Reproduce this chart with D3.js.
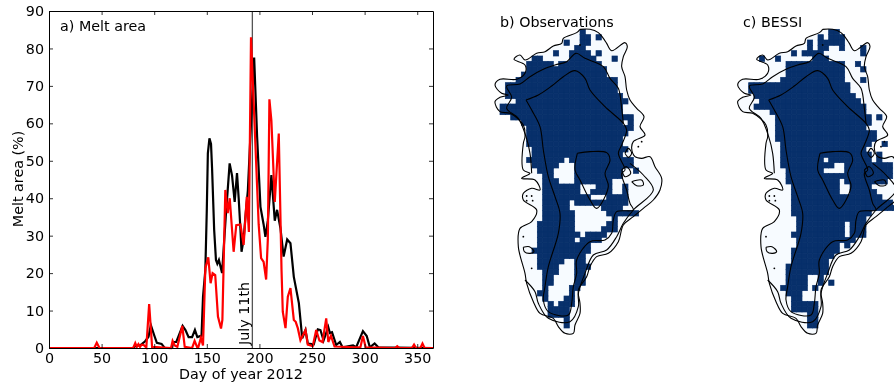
<!DOCTYPE html>
<html>
<head>
<meta charset="utf-8">
<script src="https://cdn.jsdelivr.net/npm/d3@7"></script>
<style>
  html, body { margin: 0; padding: 0; background: #fff; }
  text { font-family: "DejaVu Sans", sans-serif; fill: #000; }
  svg { display: block; filter: blur(0.3px); }
</style>
</head>
<body>
<svg id="chart" width="894" height="390"></svg>
<script>
// melt area, day of year and percent
const xTicks = [0, 50, 100, 150, 200, 250, 300, 350];
const yTicks = [0, 10, 20, 30, 40, 50, 60, 70, 80, 90];
const julyDay = 193.3;

const obsDays = [0, 80, 82, 87, 91.4, 94.6, 96.8, 100, 102.5, 107, 110, 117, 118, 121, 127, 129.7, 132.7, 136, 138.7, 141, 145, 146.4, 148.6, 150, 151, 152.5, 154, 155, 157, 158.7, 160, 161.5, 164.5, 168, 171.7, 174, 176.5, 178.7, 180.3, 182, 183, 185, 187, 189, 192, 195, 197.8, 201, 204, 205.7, 208, 211.4, 214.6, 216.8, 220, 223, 226.4, 229.5, 232.7, 237.5, 240.7, 243.8, 246, 251.7, 255.5, 258, 261, 265.4, 267, 269, 273, 276.5, 279, 286.7, 289, 292, 298.4, 302, 305, 309.5, 313, 365];
const obsValues = [0, 0, 0.5, 0.8, 1.8, 3, 6.1, 3.4, 1.4, 1.1, 0, 0, 1.6, 1.6, 5.9, 4.8, 2.9, 2.9, 4.8, 2.9, 3.3, 13.7, 20.8, 37, 52, 56, 54.5, 48, 31.5, 23.5, 22.5, 23.5, 20, 35, 49.3, 46, 39, 46.7, 40, 31.5, 25.7, 29, 36, 42, 60, 77.6, 56.5, 37.7, 33, 29.7, 34, 46.2, 34, 36.9, 32, 24.4, 29, 28, 19, 12, 2.6, 4.8, 1.2, 1, 5, 4.8, 2, 5.6, 4, 4.2, 0.8, 1.6, 0.2, 0.6, 0.7, 0.2, 4.5, 3.2, 0.2, 1.2, 0.2, 0];

const modelDays = [0, 43, 45.4, 48, 80, 82, 83.5, 85, 86.5, 88, 90, 92.5, 95.2, 98, 116, 117.5, 119.5, 122, 126.7, 129, 136, 138.4, 140.7, 142, 144.4, 146.4, 148.6, 151.4, 153.6, 155.5, 158, 160.6, 163.5, 164.8, 167.6, 169.9, 171.8, 175.5, 178, 182, 185, 188, 190, 192, 199.3, 201.6, 204, 206.4, 208, 209.5, 211.4, 214.6, 218.4, 221, 222.2, 224.8, 227, 229.5, 232.7, 234.5, 236.5, 239, 243.8, 246, 250.7, 254, 257, 260, 263.5, 265.5, 268, 271.4, 290, 296, 298.4, 301, 329, 331, 333, 345, 347, 349, 353, 355, 357, 365];
const modelValues = [0, 0, 1.4, 0, 0, 1.3, 0.3, 1, 0.3, 0.9, 0.8, 0.1, 11.7, 0.3, 0, 1.9, 0.7, 0.3, 5.9, 0.3, 0, 1.9, 0.3, 0.3, 2.7, 0.7, 21.3, 24.2, 17.3, 20, 19.5, 8.4, 5.2, 7.5, 42.2, 36, 40, 25.7, 32.8, 33, 27.5, 40.4, 31, 83, 33, 24, 23, 18.3, 29, 66.4, 60.7, 39, 57.3, 21, 9.7, 5.3, 13.7, 16, 7.5, 7, 5.3, 2.1, 4.8, 0.9, 0.5, 4.8, 2, 1.6, 7.9, 1.6, 3.3, 0.4, 0.2, 0.2, 3.2, 0.2, 0, 0.5, 0, 0, 0.9, 0, 0, 1.2, 0, 0];

// melted cells, one list of [first, last] column spans per grid row
const obsRows = [
  [[16, 16]], [[16, 17], [19, 19]], [[13, 13], [16, 17]], [[15, 16]], [[11, 11], [14, 17], [19, 19]],
  [[7, 8], [14, 18], [22, 22]], [[6, 10], [12, 19]], [[6, 20]], [[5, 20]], [[4, 22]], [[2, 22]], [[2, 22]],
  [[2, 23]], [[4, 24]], [[1, 23]], [[1, 23]], [[3, 23], [24, 25]], [[5, 23], [25, 25]], [[6, 25]], [[6, 24]],
  [[6, 23]], [[6, 23]], [[7, 23], [24, 24]], [[7, 23]], [[6, 12], [14, 25]], [[7, 11], [15, 25]], [[8, 10], [15, 23], [26, 26]],
  [[9, 10], [15, 23]], [[9, 11], [15, 21]], [[9, 15], [19, 21], [24, 24]], [[9, 15], [18, 21], [24, 24]], [[9, 17], [21, 24]],
  [[9, 13], [15, 24]], [[9, 13], [20, 23]], [[9, 14], [21, 26]], [[9, 14], [22, 22]], [[8, 14], [21, 22]],
  [[8, 14], [20, 22]], [[8, 15], [17, 20]], [[8, 14], [16, 19]], [[8, 17]], [[7, 17]], [[8, 16]], [[8, 12], [15, 16]],
  [[8, 11], [15, 17]], [[9, 11], [15, 16]], [[9, 10], [15, 16]], [[9, 10], [15, 16]], [[9, 9], [14, 15]],
  [[8, 9], [14, 14]], [[9, 9], [13, 14]], [[10, 10], [12, 14]], [[10, 13]], [[10, 13]], [[13, 13]], [[13, 13]]
];

const bessiRows = [
  [[18, 19]], [[16, 16], [18, 20]], [[14, 14], [16, 20]], [[14, 14], [16, 17], [20, 20], [24, 24]],
  [[11, 11], [13, 14], [15, 16], [24, 24]], [[5, 5], [8, 8], [15, 17]], [[10, 20], [23, 23]], [[10, 20], [24, 24]],
  [[10, 20]], [[9, 20], [24, 24]], [[3, 21]], [[3, 21]], [[4, 22]], [[5, 23]], [[4, 24]], [[7, 24]],
  [[8, 25], [27, 27]], [[8, 25]], [[8, 24]], [[8, 26]], [[8, 26]], [[9, 25], [28, 28]], [[9, 24]],
  [[9, 25], [27, 27]], [[9, 16], [18, 25], [27, 27]], [[9, 18], [21, 29]], [[10, 16], [21, 29]],
  [[10, 29]], [[10, 19], [21, 25], [26, 28]], [[11, 19], [22, 25]], [[11, 19], [22, 26]], [[11, 27]],
  [[11, 29]], [[11, 30]], [[11, 25]], [[12, 24]], [[12, 20], [22, 24]], [[12, 20], [22, 24]], [[11, 20], [22, 24]],
  [[12, 22]], [[12, 19], [21, 21]], [[11, 19]], [[11, 18]], [[11, 17]], [[10, 17]], [[10, 17]], [[10, 13], [16, 16]],
  [[10, 13], [16, 16], [18, 18]], [[9, 13], [15, 15]], [[10, 12]], [[11, 12]], [[11, 14], [15, 15]], [[11, 14], [15, 15]],
  [[14, 15]], [[14, 15]], [[14, 15]]
];

// contour lines in map units (a third of a pixel)
const coast = [[270, 58], [300, 58], [325, 68], [340, 85], [350, 100], [365, 122], [405, 98], [412, 110], [400, 140], [395, 170], [405, 200], [410, 240], [420, 270], [440, 295], [462, 320], [450, 350], [465, 375], [430, 395], [425, 415], [435, 440], [455, 445], [480, 440], [495, 470], [515, 505], [510, 540], [490, 570], [460, 595], [430, 620], [400, 645], [385, 695], [355, 730], [320, 740], [300, 770], [290, 800], [265, 840], [270, 880], [270, 910], [255, 945], [250, 970], [225, 970], [205, 950], [190, 925], [150, 910], [130, 875], [110, 820], [105, 790], [85, 710], [90, 655], [125, 635], [140, 600], [100, 570], [100, 550], [125, 535], [150, 540], [135, 510], [95, 505], [120, 490], [100, 480], [100, 400], [105, 380], [100, 345], [60, 310], [30, 305], [15, 275], [30, 262], [55, 255], [35, 250], [15, 225], [30, 208], [80, 208], [105, 190], [105, 165], [72, 148], [90, 135], [105, 150], [140, 130], [165, 125], [190, 108], [215, 100], [220, 85], [260, 68], [270, 58]];
const lowContour = [[400, 340], [395, 295], [385, 235], [360, 205], [340, 170], [285, 145], [258, 130], [230, 155], [195, 165], [160, 178], [120, 200], [90, 222], [50, 228], [65, 262], [50, 295], [85, 325], [108, 380], [120, 430], [125, 490]];
const southRing = [[420, 460], [460, 495], [490, 540], [430, 600], [400, 640], [380, 680], [350, 720], [310, 735], [285, 790], [265, 850], [265, 890], [240, 935], [175, 925], [145, 880], [135, 845], [105, 810]];
const midContour = [[108, 270], [145, 255], [185, 228], [220, 200], [255, 182], [285, 205], [300, 240], [345, 290], [400, 340], [410, 360], [395, 405], [385, 430], [405, 480], [395, 490], [410, 540], [420, 580], [430, 600], [380, 605], [370, 630], [365, 670], [345, 690], [300, 695], [260, 750], [260, 790], [250, 830], [245, 880], [235, 915], [175, 905], [160, 870], [165, 830], [175, 770], [205, 670], [210, 610], [195, 560], [175, 500], [160, 420], [150, 350], [125, 300], [108, 270]];
const summitContour = [[262, 430], [300, 425], [350, 428], [360, 450], [345, 490], [355, 530], [320, 595], [300, 570], [270, 510], [255, 480], [262, 430]];
const lakes = [
  [[405, 430], [415, 415], [425, 430], [415, 442], [405, 430]],
  [[395, 480], [410, 470], [422, 490], [405, 500], [395, 480]],
  [[425, 515], [455, 510], [460, 525], [440, 527], [425, 515]],
  [[100, 712], [118, 710], [132, 725], [120, 730], [103, 725], [100, 712]]
];
const dotU = [455, 445, 110, 125, 110, 128, 100, 125, 270];
const dotV = [395, 410, 558, 558, 572, 572, 680, 775, 105];

const frame = { left: 49, right: 433, top: 11, bottom: 348 };

const svg = d3.select('#chart');

const x = d3.scaleLinear().domain([0, 365]).range([frame.left, frame.right]);
const y = d3.scaleLinear().domain([0, 90]).range([frame.bottom, frame.top]);

const chart = svg.append('g');

function drawMelt(days, values, colour) {
    const line = d3.line().x(d => x(d[0])).y(d => y(d[1]));
    chart.append('path')
        .attr('d', line(days.map((d, i) => [d, values[i]])))
        .attr('fill', 'none')
        .attr('stroke', colour)
        .attr('stroke-width', 2.2)
        .attr('stroke-linejoin', 'miter');
}

chart.append('line')
    .attr('x1', x(julyDay)).attr('x2', x(julyDay))
    .attr('y1', frame.top).attr('y2', frame.bottom)
    .attr('stroke', '#555')
    .attr('stroke-width', 1.3);

drawMelt(obsDays, obsValues, '#000');
drawMelt(modelDays, modelValues, '#f00');

function styleAxis(g) {
    g.selectAll('text').style('font-size', '14.3px').style('font-family', '"DejaVu Sans", sans-serif').attr('fill', '#000');
    g.selectAll('line').attr('stroke', '#000').attr('stroke-width', 0.8);
    g.select('.domain').attr('stroke', '#000').attr('stroke-width', 1);
}

chart.append('g')
    .attr('transform', `translate(0,${frame.bottom})`)
    .call(d3.axisBottom(x).tickValues(xTicks).tickSizeInner(-4).tickSizeOuter(0).tickPadding(5))
    .call(styleAxis);
chart.append('g')
    .attr('transform', `translate(0,${frame.top})`)
    .call(d3.axisTop(x).tickValues(xTicks).tickSizeInner(-4).tickSizeOuter(0).tickFormat(''))
    .call(styleAxis);
chart.append('g')
    .attr('transform', `translate(${frame.left},0)`)
    .call(d3.axisLeft(y).tickValues(yTicks).tickSizeInner(-4).tickSizeOuter(0).tickPadding(5))
    .call(styleAxis);
chart.append('g')
    .attr('transform', `translate(${frame.right},0)`)
    .call(d3.axisRight(y).tickValues(yTicks).tickSizeInner(-4).tickSizeOuter(0).tickFormat(''))
    .call(styleAxis);

chart.append('text').attr('x', 60).attr('y', 31).style('font-size', '14.3px').text('a) Melt area');
chart.append('text')
    .attr('x', 241).attr('y', 379).attr('text-anchor', 'middle')
    .style('font-size', '14.3px').text('Day of year 2012');
chart.append('text')
    .attr('transform', 'translate(23,179) rotate(-90)').attr('text-anchor', 'middle')
    .style('font-size', '14.3px').text('Melt area (%)');
chart.append('text')
    .attr('transform', `translate(${x(julyDay) - 3},345) rotate(-90)`)
    .style('font-size', '14.3px').text('July 11th');

const cell = 16;

function drawMap(rows, shift, gridStart, title, titleX) {
    const mx = d3.scaleLinear().domain([0, 540]).range([490 + shift, 670 + shift]);
    const my = d3.scaleLinear().domain([0, 990]).range([10, 340]);
    const g = svg.append('g');
    const contour = d3.line().x(d => mx(d[0])).y(d => my(d[1])).curve(d3.curveCatmullRom.alpha(0.5));

    g.append('path').attr('d', contour(coast)).attr('fill', '#f7fbff').attr('stroke', 'none');

    const cells = [];
    rows.forEach((spans, r) => spans.forEach(([a, b]) => {
        for (let c = a; c <= b; c++) cells.push({ c, r });
    }));
    g.selectAll('rect').data(cells).enter().append('rect')
        .attr('x', d => mx(gridStart + d.c * cell))
        .attr('y', d => my(58 + d.r * cell))
        .attr('width', mx(cell) - mx(0))
        .attr('height', my(cell) - my(0))
        .attr('fill', '#08306b')
        .attr('stroke', '#08306b')
        .attr('stroke-width', 0.7);

    [coast, lowContour, southRing, midContour, summitContour, ...lakes].forEach(pts => {
        g.append('path').attr('d', contour(pts))
            .attr('fill', 'none').attr('stroke', '#000').attr('stroke-width', 1.1);
    });

    g.selectAll('circle').data(dotU).enter().append('circle')
        .attr('cx', d => mx(d))
        .attr('cy', (d, i) => my(dotV[i]))
        .attr('r', 0.9)
        .attr('fill', '#000');

    svg.append('text').attr('x', titleX).attr('y', 27).style('font-size', '14.3px').text(title);
}

drawMap(obsRows, 0, 14, 'b) Observations', 500);
drawMap(bessiRows, 242.67, 0, 'c) BESSI', 743);
</script>
</body>
</html>
